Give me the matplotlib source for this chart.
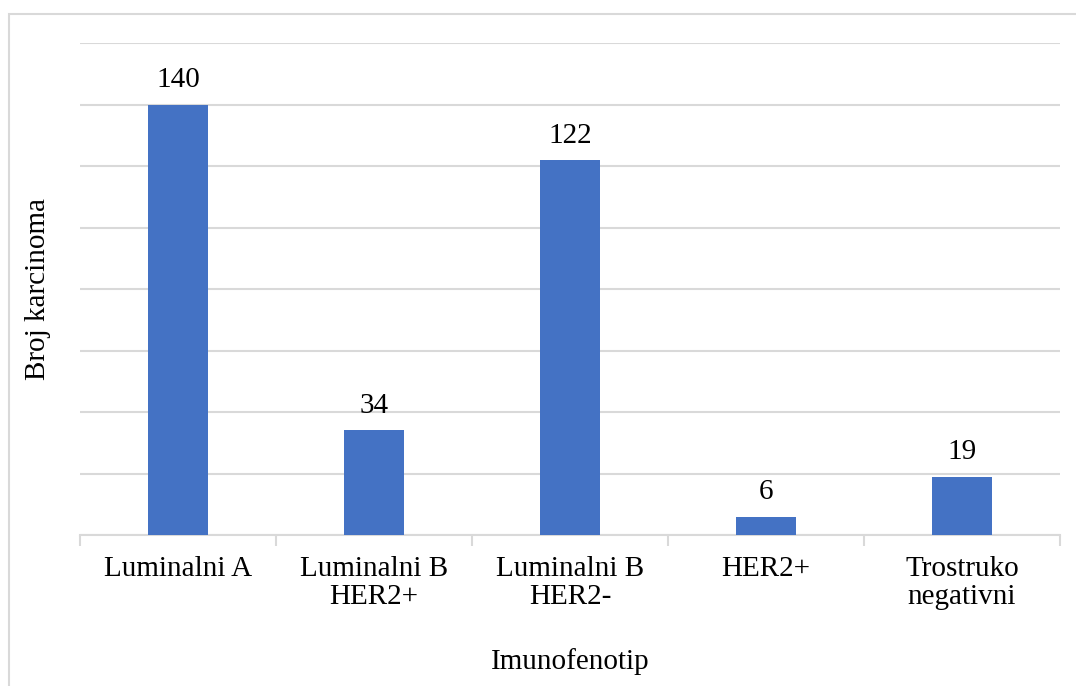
import matplotlib.pyplot as plt
from matplotlib.patches import Rectangle

categories = ["Luminalni A", "Luminalni B\nHER2+", "Luminalni B\nHER2-", "HER2+", "Trostruko\nnegativni"]
counts = [140, 34, 122, 6, 19]

plt.rcParams["font.family"] = ["Liberation Serif", "DejaVu Serif"]
plt.rcParams["font.size"] = 21

W, H = 1076, 686
fig = plt.figure(figsize=(W / 100, H / 100), dpi=100)
ax = fig.add_axes([80 / W, 1 - 535 / H, 980 / W, 492 / H])

grid_c = "#d9d9d9"
x = range(len(categories))
bars = ax.bar(x, counts, width=0.31, color="#4472c4", zorder=3)
for b, v in zip(bars, counts):
    ax.annotate(str(v), (b.get_x() + b.get_width() / 2, v), xytext=(0, 8),
                textcoords="offset points", ha="center", va="bottom", fontsize=21)

ax.set_xlim(-0.5, len(categories) - 0.5)
ax.set_ylim(0, 160)
ax.set_yticks(range(0, 161, 20))
ax.yaxis.grid(True, color=grid_c, linewidth=1.5)
ax.tick_params(axis="y", left=False, labelleft=False)
for s in ["top", "right", "left"]:
    ax.spines[s].set_visible(False)
ax.spines["bottom"].set_color(grid_c)
ax.spines["bottom"].set_linewidth(1.5)

ax.set_xticks(list(x))
ax.set_xticklabels(categories, linespacing=1.1)
ax.tick_params(axis="x", length=0, pad=15)
ax.set_xticks([i - 0.5 for i in range(len(categories) + 1)], minor=True)
ax.tick_params(axis="x", which="minor", length=8, color=grid_c, width=1.5)

ax.set_ylabel("Broj karcinoma", labelpad=21)
fig.text(570 / W, 1 - 662 / H, "Imunofenotip", ha="center", va="center", fontsize=21)

# outer chart border (cropped at right and bottom)
fig.patches.append(Rectangle((8.5 / W, -0.1), 1.2, 1 - 13.5 / H + 0.1, transform=fig.transFigure,
                             fill=False, edgecolor=grid_c, linewidth=1.5))

fig.savefig("out.png", dpi=100)
